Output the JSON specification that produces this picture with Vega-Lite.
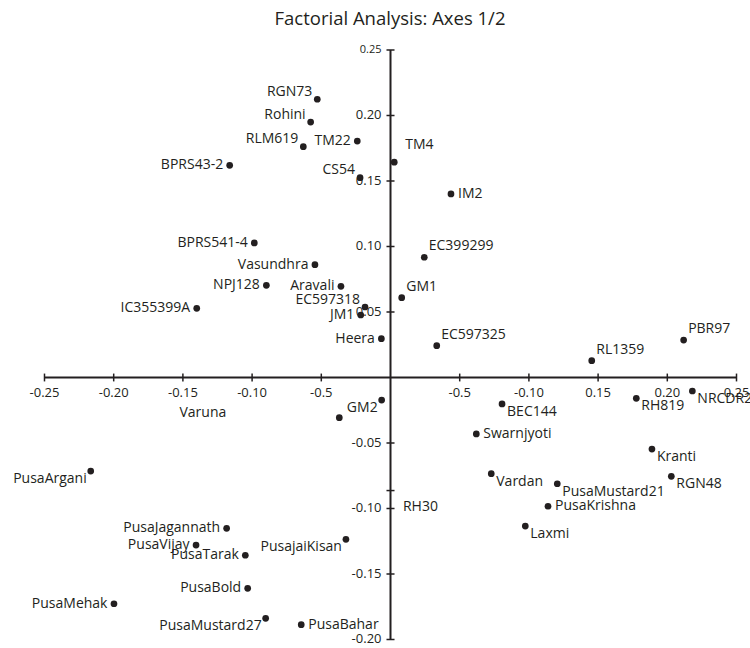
{
  "$schema": "https://vega.github.io/schema/vega-lite/v6.json",
  "width": 750,
  "height": 608,
  "autosize": "none",
  "padding": {"top": 40, "left": 0, "right": 0, "bottom": 0},
  "title": {"text": "Factorial Analysis: Axes 1/2", "font": "Open Sans", "fontSize": 18.5, "fontWeight": "normal", "color": "#231f20", "anchor": "middle", "frame": "group", "offset": 12, "dx": 15},
  "config": {"view": {"stroke": null}, "text": {"font": "Open Sans", "color": "#231f20"}},
  "datasets": {
    "ticks": [
      {"axis": "x", "v": -0.25, "label": "-0.25"},
      {"axis": "x", "v": -0.2, "label": "-0.20"},
      {"axis": "x", "v": -0.15, "label": "-0.15"},
      {"axis": "x", "v": -0.1, "label": "-0.10"},
      {"axis": "x", "v": -0.05, "label": "-0.5"},
      {"axis": "x", "v": 0.05, "label": "-0.5"},
      {"axis": "x", "v": 0.1, "label": "-0.10"},
      {"axis": "x", "v": 0.15, "label": "0.15"},
      {"axis": "x", "v": 0.2, "label": "0.20"},
      {"axis": "x", "v": 0.25, "label": "0.25"},
      {"axis": "y", "v": 0.25, "label": "0.25"},
      {"axis": "y", "v": 0.2, "label": "0.20"},
      {"axis": "y", "v": 0.15, "label": "0.15"},
      {"axis": "y", "v": 0.1, "label": "0.10"},
      {"axis": "y", "v": 0.05, "label": "0.05"},
      {"axis": "y", "v": -0.05, "label": "-0.05"},
      {"axis": "y", "v": -0.0863, "label": ""},
      {"axis": "y", "v": -0.1, "label": "-0.10"},
      {"axis": "y", "v": -0.15, "label": "-0.15"},
      {"axis": "y", "v": -0.2, "label": "-0.20"}
    ],
    "pts": [
      {"name": "RGN73", "x": -0.0529, "y": 0.2124, "pos": "al", "marker": "dot"},
      {"name": "Rohini", "x": -0.0577, "y": 0.195, "pos": "al", "marker": "dot"},
      {"name": "RLM619", "x": -0.063, "y": 0.1762, "pos": "al", "marker": "dot"},
      {"name": "TM22", "x": -0.024, "y": 0.1805, "pos": "l", "marker": "dot"},
      {"name": "BPRS43-2", "x": -0.1162, "y": 0.162, "pos": "l", "marker": "dot"},
      {"name": "CS54", "x": -0.022, "y": 0.1525, "pos": "al", "marker": "dot"},
      {"name": "TM4", "x": 0.0027, "y": 0.1644, "pos": "arh", "marker": "dot"},
      {"name": "IM2", "x": 0.0437, "y": 0.1401, "pos": "r", "marker": "dot"},
      {"name": "BPRS541-4", "x": -0.0984, "y": 0.1027, "pos": "l", "marker": "dot"},
      {"name": "EC399299", "x": 0.0244, "y": 0.0918, "pos": "ar", "marker": "dot"},
      {"name": "Vasundhra", "x": -0.0546, "y": 0.0861, "pos": "l", "marker": "dot"},
      {"name": "NPJ128", "x": -0.0897, "y": 0.0704, "pos": "l", "marker": "dot"},
      {"name": "Aravali", "x": -0.0358, "y": 0.0696, "pos": "l", "marker": "dot"},
      {"name": "GM1", "x": 0.0081, "y": 0.0609, "pos": "ar", "marker": "dot"},
      {"name": "IC355399A", "x": -0.14, "y": 0.0528, "pos": "l", "marker": "dot"},
      {"name": "EC597318", "x": -0.0184, "y": 0.0538, "pos": "al", "marker": "dot"},
      {"name": "JM1", "x": -0.0215, "y": 0.0477, "pos": "l", "marker": "dot"},
      {"name": "Heera", "x": -0.0066, "y": 0.0296, "pos": "l", "marker": "dot"},
      {"name": "EC597325", "x": 0.0334, "y": 0.0243, "pos": "ar", "marker": "dot"},
      {"name": "RL1359", "x": 0.1454, "y": 0.0128, "pos": "ar", "marker": "dot"},
      {"name": "PBR97", "x": 0.2118, "y": 0.0286, "pos": "ar", "marker": "dot"},
      {"name": "GM2", "x": -0.0064, "y": -0.0172, "pos": "bl", "marker": "dot"},
      {"name": "Varuna", "x": -0.037, "y": -0.0307, "pos": "far", "marker": "dot"},
      {"name": "BEC144", "x": 0.0806, "y": -0.0202, "pos": "br", "marker": "dot"},
      {"name": "RH819", "x": 0.1776, "y": -0.0159, "pos": "br", "marker": "dot"},
      {"name": "NRCDR2", "x": 0.2181, "y": -0.0103, "pos": "br", "marker": "dot"},
      {"name": "Swarnjyoti", "x": 0.062, "y": -0.0431, "pos": "r", "marker": "dot"},
      {"name": "Kranti", "x": 0.1889, "y": -0.0546, "pos": "br", "marker": "dot"},
      {"name": "Vardan", "x": 0.0728, "y": -0.0734, "pos": "br", "marker": "dot"},
      {"name": "PusaMustard21", "x": 0.1205, "y": -0.0811, "pos": "br", "marker": "dot"},
      {"name": "RGN48", "x": 0.2029, "y": -0.0754, "pos": "br", "marker": "dot"},
      {"name": "PusaKrishna", "x": 0.1138, "y": -0.0983, "pos": "r", "marker": "dot"},
      {"name": "Laxmi", "x": 0.0974, "y": -0.1134, "pos": "br", "marker": "dot"},
      {"name": "RH30", "x": 0.0054, "y": -0.0927, "pos": "br", "marker": "none"},
      {"name": "PusaArgani", "x": -0.2166, "y": -0.0714, "pos": "bl", "marker": "dot"},
      {"name": "PusaJagannath", "x": -0.1184, "y": -0.1151, "pos": "l", "marker": "dot"},
      {"name": "PusaVijay", "x": -0.1405, "y": -0.1279, "pos": "l", "marker": "dot"},
      {"name": "PusaTarak", "x": -0.1049, "y": -0.1357, "pos": "l", "marker": "dot"},
      {"name": "PusajaiKisan", "x": -0.0322, "y": -0.1235, "pos": "bl", "marker": "dot"},
      {"name": "PusaBold", "x": -0.1032, "y": -0.1609, "pos": "l", "marker": "dot"},
      {"name": "PusaMehak", "x": -0.1998, "y": -0.1727, "pos": "l", "marker": "dot"},
      {"name": "PusaMustard27", "x": -0.0902, "y": -0.1838, "pos": "bl", "marker": "dot"},
      {"name": "PusaBahar", "x": -0.0645, "y": -0.1887, "pos": "r", "marker": "dot"}
    ]
  },
  "layer": [
    {
      "data": {"name": "ticks"},
      "transform": [{"filter": "datum.axis == 'x'"}],
      "mark": {"type": "rule", "color": "#231f20", "strokeWidth": 2},
      "encoding": {
        "x": {"aggregate": "min", "field": "v", "type": "quantitative", "scale": {"domain": [-0.28215, 0.25975], "nice": false, "zero": false}, "axis": null},
        "x2": {"aggregate": "max", "field": "v"},
        "y": {"datum": 0, "type": "quantitative", "scale": {"domain": [-0.20649, 0.25763], "nice": false, "zero": false}, "axis": null}
      }
    },
    {
      "data": {"name": "ticks"},
      "transform": [{"filter": "datum.axis == 'y'"}],
      "mark": {"type": "rule", "color": "#231f20", "strokeWidth": 2},
      "encoding": {
        "y": {"aggregate": "min", "field": "v", "type": "quantitative", "scale": {"domain": [-0.20649, 0.25763], "nice": false, "zero": false}, "axis": null},
        "y2": {"aggregate": "max", "field": "v"},
        "x": {"datum": 0, "type": "quantitative", "scale": {"domain": [-0.28215, 0.25975], "nice": false, "zero": false}, "axis": null}
      }
    },
    {
      "data": {"name": "ticks"},
      "transform": [{"filter": "datum.axis == 'x'"}],
      "mark": {"type": "rule", "color": "#231f20", "strokeWidth": 1.5},
      "encoding": {
        "x": {"field": "v", "type": "quantitative", "scale": {"domain": [-0.28215, 0.25975], "nice": false, "zero": false}, "axis": null},
        "y": {"datum": -0.003, "type": "quantitative", "scale": {"domain": [-0.20649, 0.25763], "nice": false, "zero": false}, "axis": null},
        "y2": {"datum": 0.003}
      }
    },
    {
      "data": {"name": "ticks"},
      "transform": [{"filter": "datum.axis == 'y'"}],
      "mark": {"type": "rule", "color": "#231f20", "strokeWidth": 1.5},
      "encoding": {
        "y": {"field": "v", "type": "quantitative", "scale": {"domain": [-0.20649, 0.25763], "nice": false, "zero": false}, "axis": null},
        "x": {"datum": -0.0029, "type": "quantitative", "scale": {"domain": [-0.28215, 0.25975], "nice": false, "zero": false}, "axis": null},
        "x2": {"datum": 0.0029}
      }
    },
    {
      "data": {"name": "ticks"},
      "transform": [{"filter": "datum.axis == 'x'"}],
      "mark": {"type": "text", "align": "center", "baseline": "middle", "dy": 15.6, "fontSize": 13, "font": "Open Sans", "color": "#231f20"},
      "encoding": {
        "x": {"field": "v", "type": "quantitative", "scale": {"domain": [-0.28215, 0.25975], "nice": false, "zero": false}, "axis": null},
        "y": {"datum": 0, "type": "quantitative", "scale": {"domain": [-0.20649, 0.25763], "nice": false, "zero": false}, "axis": null},
        "text": {"field": "label"}
      }
    },
    {
      "data": {"name": "ticks"},
      "transform": [{"filter": "datum.axis == 'y'"}],
      "mark": {"type": "text", "align": "right", "baseline": "middle", "dx": -9, "font": "Open Sans", "color": "#231f20"},
      "encoding": {
        "y": {"field": "v", "type": "quantitative", "scale": {"domain": [-0.20649, 0.25763], "nice": false, "zero": false}, "axis": null},
        "x": {"datum": 0, "type": "quantitative", "scale": {"domain": [-0.28215, 0.25975], "nice": false, "zero": false}, "axis": null},
        "text": {"field": "label"},
        "size": {"condition": {"test": "datum.label == '0.25'", "value": 11}, "value": 13}
      }
    },
    {
      "data": {"name": "pts"},
      "transform": [{"filter": "datum.pos == 'l'"}],
      "mark": {"type": "text", "align": "right", "baseline": "middle", "dx": -6.5, "fontSize": 14, "font": "Open Sans", "color": "#231f20"},
      "encoding": {
        "x": {"field": "x", "type": "quantitative", "scale": {"domain": [-0.28215, 0.25975], "nice": false, "zero": false}, "axis": null},
        "y": {"field": "y", "type": "quantitative", "scale": {"domain": [-0.20649, 0.25763], "nice": false, "zero": false}, "axis": null},
        "text": {"field": "name"}
      }
    },
    {
      "data": {"name": "pts"},
      "transform": [{"filter": "datum.pos == 'r'"}],
      "mark": {"type": "text", "align": "left", "baseline": "middle", "dx": 7, "fontSize": 14, "font": "Open Sans", "color": "#231f20"},
      "encoding": {
        "x": {"field": "x", "type": "quantitative", "scale": {"domain": [-0.28215, 0.25975], "nice": false, "zero": false}, "axis": null},
        "y": {"field": "y", "type": "quantitative", "scale": {"domain": [-0.20649, 0.25763], "nice": false, "zero": false}, "axis": null},
        "text": {"field": "name"}
      }
    },
    {
      "data": {"name": "pts"},
      "transform": [{"filter": "datum.pos == 'al'"}],
      "mark": {"type": "text", "align": "right", "baseline": "middle", "dx": -5, "dy": -7.5, "fontSize": 14, "font": "Open Sans", "color": "#231f20"},
      "encoding": {
        "x": {"field": "x", "type": "quantitative", "scale": {"domain": [-0.28215, 0.25975], "nice": false, "zero": false}, "axis": null},
        "y": {"field": "y", "type": "quantitative", "scale": {"domain": [-0.20649, 0.25763], "nice": false, "zero": false}, "axis": null},
        "text": {"field": "name"}
      }
    },
    {
      "data": {"name": "pts"},
      "transform": [{"filter": "datum.pos == 'ar'"}],
      "mark": {"type": "text", "align": "left", "baseline": "middle", "dx": 4.5, "dy": -11, "fontSize": 14, "font": "Open Sans", "color": "#231f20"},
      "encoding": {
        "x": {"field": "x", "type": "quantitative", "scale": {"domain": [-0.28215, 0.25975], "nice": false, "zero": false}, "axis": null},
        "y": {"field": "y", "type": "quantitative", "scale": {"domain": [-0.20649, 0.25763], "nice": false, "zero": false}, "axis": null},
        "text": {"field": "name"}
      }
    },
    {
      "data": {"name": "pts"},
      "transform": [{"filter": "datum.pos == 'arh'"}],
      "mark": {"type": "text", "align": "left", "baseline": "middle", "dx": 11, "dy": -17, "fontSize": 14, "font": "Open Sans", "color": "#231f20"},
      "encoding": {
        "x": {"field": "x", "type": "quantitative", "scale": {"domain": [-0.28215, 0.25975], "nice": false, "zero": false}, "axis": null},
        "y": {"field": "y", "type": "quantitative", "scale": {"domain": [-0.20649, 0.25763], "nice": false, "zero": false}, "axis": null},
        "text": {"field": "name"}
      }
    },
    {
      "data": {"name": "pts"},
      "transform": [{"filter": "datum.pos == 'bl'"}],
      "mark": {"type": "text", "align": "right", "baseline": "middle", "dx": -4, "dy": 8, "fontSize": 14, "font": "Open Sans", "color": "#231f20"},
      "encoding": {
        "x": {"field": "x", "type": "quantitative", "scale": {"domain": [-0.28215, 0.25975], "nice": false, "zero": false}, "axis": null},
        "y": {"field": "y", "type": "quantitative", "scale": {"domain": [-0.20649, 0.25763], "nice": false, "zero": false}, "axis": null},
        "text": {"field": "name"}
      }
    },
    {
      "data": {"name": "pts"},
      "transform": [{"filter": "datum.pos == 'br'"}],
      "mark": {"type": "text", "align": "left", "baseline": "middle", "dx": 5, "dy": 8, "fontSize": 14, "font": "Open Sans", "color": "#231f20"},
      "encoding": {
        "x": {"field": "x", "type": "quantitative", "scale": {"domain": [-0.28215, 0.25975], "nice": false, "zero": false}, "axis": null},
        "y": {"field": "y", "type": "quantitative", "scale": {"domain": [-0.20649, 0.25763], "nice": false, "zero": false}, "axis": null},
        "text": {"field": "name"}
      }
    },
    {
      "data": {"name": "pts"},
      "transform": [{"filter": "datum.pos == 'far'"}],
      "mark": {"type": "text", "align": "right", "baseline": "middle", "dx": -113, "dy": -5, "fontSize": 14, "font": "Open Sans", "color": "#231f20"},
      "encoding": {
        "x": {"field": "x", "type": "quantitative", "scale": {"domain": [-0.28215, 0.25975], "nice": false, "zero": false}, "axis": null},
        "y": {"field": "y", "type": "quantitative", "scale": {"domain": [-0.20649, 0.25763], "nice": false, "zero": false}, "axis": null},
        "text": {"field": "name"}
      }
    },
    {
      "data": {"name": "pts"},
      "transform": [{"filter": "datum.marker == 'dot'"}],
      "mark": {"type": "circle", "size": 45, "color": "#231f20", "opacity": 1},
      "encoding": {
        "x": {"field": "x", "type": "quantitative", "scale": {"domain": [-0.28215, 0.25975], "nice": false, "zero": false}, "axis": null},
        "y": {"field": "y", "type": "quantitative", "scale": {"domain": [-0.20649, 0.25763], "nice": false, "zero": false}, "axis": null}
      }
    }
  ]
}
